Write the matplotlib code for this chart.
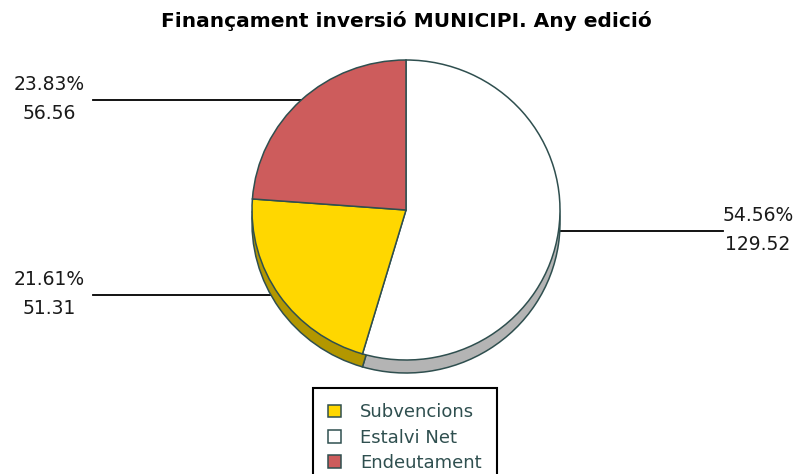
import numpy as np
import matplotlib
matplotlib.use("Agg")
import matplotlib.pyplot as plt

# ---- data ----
categories = ["Subvencions", "Estalvi Net", "Endeutament"]
values = [51.31, 129.52, 56.56]
percent_labels = ["21.61%", "54.56%", "23.83%"]
value_labels = ["51.31", "129.52", "56.56"]
title = "Finançament inversió MUNICIPI. Any edició"

# ---- styles ----
colors = {"Subvencions": "#FFD700", "Estalvi Net": "#FFFFFF", "Endeutament": "#CD5C5C"}
shadow_colors = {"Subvencions": "#B39700", "Estalvi Net": "#B4B4B4", "Endeutament": "#8E3F3F"}
edge = "#2F4F4F"
pie_order = ["Estalvi Net", "Subvencions", "Endeutament"]  # clockwise from 12 o'clock

W, H = 806, 474
fig = plt.figure(figsize=(W / 100, H / 100), dpi=100)
fig.patch.set_facecolor("white")

# pie axes: centre (406, 210) px from top-left, radius 154 px horizontally, 150 px vertically
cx, cy = 406, 210
rx, ry = 154, 150
L = 1.3
ax = fig.add_axes([(cx - L * rx) / W, (H - cy - L * ry) / H, 2 * L * rx / W, 2 * L * ry / H])

vals = [values[categories.index(c)] for c in pie_order]
depth = 13 / ry

# shadow (extrusion)
sh, _ = ax.pie(vals, colors=[shadow_colors[c] for c in pie_order], startangle=90,
               counterclock=False, radius=1, center=(0, -depth),
               wedgeprops=dict(edgecolor=edge, linewidth=1.1, zorder=2))
top, _ = ax.pie(vals, colors=[colors[c] for c in pie_order], startangle=90,
                counterclock=False, radius=1, center=(0, 0),
                wedgeprops=dict(edgecolor=edge, linewidth=1.1, zorder=3))
ax.set_xlim(-L, L)
ax.set_ylim(-L, L)
ax.set_aspect("auto")
ax.axis("off")

# labels with leader lines
tfont = dict(family="DejaVu Sans", fontsize=13.5, color="#1a1a1a")
for w, c in zip(top, pie_order):
    i = categories.index(c)
    mid = np.deg2rad((w.theta1 + w.theta2) / 2)
    axp = np.cos(mid)
    ayp = np.sin(mid)
    right = axp > 0
    xend = (723 - cx) / rx if right else (93 - cx) / rx
    ax.plot([axp, xend], [ayp, ayp], color="black", lw=1.3, clip_on=False, zorder=1)
    xt = (758 - cx) / rx if right else (49 - cx) / rx
    ax.annotate(percent_labels[i], (xt, ayp), xytext=(0, 16), textcoords="offset pixels",
                ha="center", va="center", annotation_clip=False, **tfont)
    ax.annotate(value_labels[i], (xt, ayp), xytext=(0, -13), textcoords="offset pixels",
                ha="center", va="center", annotation_clip=False, **tfont)

fig.text(406 / W, 1 - 21 / H, title, ha="center", va="center", fontsize=14.5,
         fontweight="bold", family="DejaVu Sans")

handles = [top[pie_order.index(c)] for c in categories]
leg = fig.legend(handles, categories, loc="upper left",
                 bbox_to_anchor=(313 / W, 1 - 388 / H), bbox_transform=fig.transFigure,
                 borderaxespad=0, fontsize=13, handlelength=0.72, handleheight=0.72,
                 handletextpad=1.05, labelspacing=0.4, borderpad=0.85,
                 fancybox=False, framealpha=1, edgecolor="black")
leg.get_frame().set_linewidth(1.5)
for t in leg.get_texts():
    t.set_color("#2F4F4F")

fig.savefig("out.png", dpi=100, facecolor="white")
